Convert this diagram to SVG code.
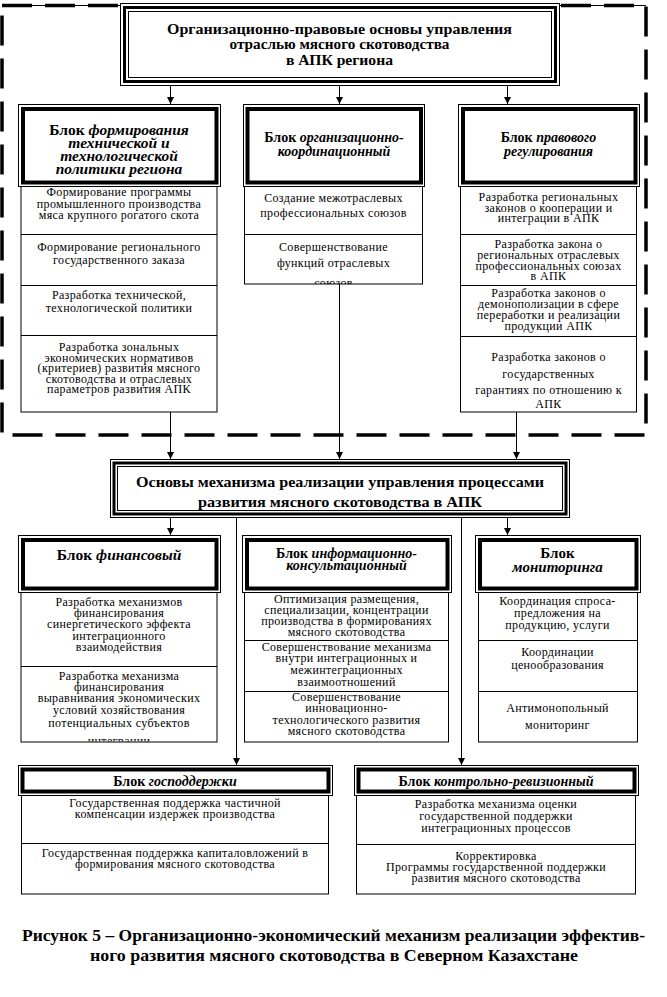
<svg xmlns="http://www.w3.org/2000/svg" width="667" height="997" viewBox="0 0 667 997">
<style>
.t{font-family:"Liberation Serif","Times New Roman",serif;font-size:12px;letter-spacing:0.35px;text-anchor:middle;fill:#000}
.h{font-family:"Liberation Serif","Times New Roman",serif;font-weight:bold;text-anchor:middle;fill:#000}
.hi{font-style:italic}
.m{font-family:"Liberation Serif","Times New Roman",serif;font-weight:bold;font-size:14px;text-anchor:middle;fill:#000}
.thin{fill:#fff;stroke:#000;stroke-width:1}
.thick{fill:none;stroke:#000;stroke-width:4}
.mthick{fill:none;stroke:#000;stroke-width:3}
.line{fill:none;stroke:#000;stroke-width:1}
.con{fill:none;stroke:#000;stroke-width:1}
.dash{fill:none;stroke:#000;stroke-width:3.5;stroke-dasharray:30 13}
</style>
<defs>
<marker id="arr" viewBox="0 0 8 8" refX="8" refY="4" markerWidth="7" markerHeight="7" markerUnits="userSpaceOnUse" orient="auto">
<path d="M0,0 L8,4 L0,8 z" fill="#000"/>
</marker>
<clipPath id="c1"><rect x="243" y="234" width="182" height="50"/></clipPath>
<clipPath id="c2"><rect x="18" y="666" width="202" height="75.5"/></clipPath>
</defs>
<rect width="667" height="997" fill="#fff"/>

<g id="frame">
<line x1="2" y1="5.5" x2="646" y2="5.5" stroke="#000" stroke-width="1"/>
<rect class="dash" x="2" y="5.5" width="644" height="429.5"/>
</g>

<g id="connectors">
<line class="con" x1="170.5" y1="85" x2="170.5" y2="104" marker-end="url(#arr)"/>
<line class="con" x1="339.5" y1="85" x2="339.5" y2="104" marker-end="url(#arr)"/>
<line class="con" x1="507.5" y1="85" x2="507.5" y2="104" marker-end="url(#arr)"/>
<line class="con" x1="170.5" y1="412" x2="170.5" y2="459" marker-end="url(#arr)"/>
<line class="con" x1="339.5" y1="284" x2="339.5" y2="459" marker-end="url(#arr)"/>
<line class="con" x1="516.5" y1="412" x2="516.5" y2="459" marker-end="url(#arr)"/>
<line class="con" x1="170.5" y1="517" x2="170.5" y2="535" marker-end="url(#arr)"/>
<line class="con" x1="507.5" y1="517" x2="507.5" y2="535" marker-end="url(#arr)"/>
<line class="con" x1="236.5" y1="517" x2="236.5" y2="765" marker-end="url(#arr)"/>
<line class="con" x1="461.5" y1="517" x2="461.5" y2="765" marker-end="url(#arr)"/>
</g>

<g id="main1">
<rect class="thin" x="120.5" y="3.5" width="439" height="82"/>
<rect class="mthick" x="124.5" y="7.5" width="431" height="74"/>
<rect class="line" x="128.5" y="11.5" width="423" height="66"/>
<text class="m" x="339.5" y="34" textLength="345" lengthAdjust="spacingAndGlyphs">Организационно-правовые основы управления</text>
<text class="m" x="339.5" y="49" textLength="220" lengthAdjust="spacingAndGlyphs">отраслью мясного скотоводства</text>
<text class="m" x="339.5" y="65" textLength="107" lengthAdjust="spacingAndGlyphs">в АПК региона</text>
</g>

<g id="block-tech">
<rect class="thin" x="18.5" y="104.5" width="202" height="82"/>
<rect class="thick" x="23" y="109" width="193.5" height="73.5"/>
<text class="h" font-size="15.5"><tspan x="119" y="135">Блок <tspan class="hi">формирования</tspan></tspan><tspan class="hi" x="119" y="147.5">технической и</tspan><tspan class="hi" x="119" y="160.5">технологической</tspan><tspan class="hi" x="119" y="173.5">политики региона</tspan></text>
<rect class="thin" x="21" y="186.5" width="196" height="225.5"/>
<line class="line" x1="21" y1="234.5" x2="217" y2="234.5"/>
<line class="line" x1="21" y1="285.5" x2="217" y2="285.5"/>
<line class="line" x1="21" y1="335.5" x2="217" y2="335.5"/>
<text class="t"><tspan x="119" y="196">Формирование программы</tspan><tspan x="119" y="207.5">промышленного производства</tspan><tspan x="119" y="219">мяса крупного рогатого скота</tspan></text>
<text class="t"><tspan x="119" y="251">Формирование регионального</tspan><tspan x="119" y="264">государственного заказа</tspan></text>
<text class="t"><tspan x="119" y="299">Разработка технической,</tspan><tspan x="119" y="312">технологической политики</tspan></text>
<text class="t"><tspan x="119" y="351">Разработка зональных</tspan><tspan x="119" y="361.5">экономических нормативов</tspan><tspan x="119" y="372">(критериев) развития мясного</tspan><tspan x="119" y="382.5">скотоводства и отраслевых</tspan><tspan x="119" y="393">параметров развития АПК</tspan></text>
</g>

<g id="block-org">
<rect class="thin" x="243.5" y="104.5" width="181" height="82"/>
<rect class="thick" x="247.5" y="109" width="173.5" height="73.5"/>
<text class="h" font-size="14"><tspan x="334" y="142">Блок <tspan class="hi">организационно-</tspan></tspan><tspan class="hi" x="334" y="156">координационный</tspan></text>
<rect class="thin" x="244.5" y="186.5" width="178" height="97.5"/>
<line class="line" x1="244.5" y1="234.5" x2="422.5" y2="234.5"/>
<text class="t"><tspan x="333.5" y="202">Создание межотраслевых</tspan><tspan x="333.5" y="217">профессиональных союзов</tspan></text>
<text class="t" clip-path="url(#c1)"><tspan x="333.5" y="251">Совершенствование</tspan><tspan x="333.5" y="267">функций отраслевых</tspan><tspan x="333.5" y="287">союзов</tspan></text>
</g>

<g id="block-law">
<rect class="thin" x="458.5" y="104.5" width="181" height="82"/>
<rect class="thick" x="463" y="109" width="172.5" height="73.5"/>
<text class="h" font-size="14"><tspan x="548.5" y="142">Блок <tspan class="hi">правового</tspan></tspan><tspan class="hi" x="548.5" y="156">регулирования</tspan></text>
<rect class="thin" x="460.5" y="186.5" width="176" height="225.5"/>
<line class="line" x1="460.5" y1="234.5" x2="636.5" y2="234.5"/>
<line class="line" x1="460.5" y1="285.5" x2="636.5" y2="285.5"/>
<line class="line" x1="460.5" y1="336.5" x2="636.5" y2="336.5"/>
<text class="t"><tspan x="548.5" y="201">Разработка региональных</tspan><tspan x="548.5" y="211.5">законов о кооперации и</tspan><tspan x="548.5" y="222">интеграции в АПК</tspan></text>
<text class="t"><tspan x="548.5" y="248">Разработка закона о</tspan><tspan x="548.5" y="259">региональных отраслевых</tspan><tspan x="548.5" y="270">профессиональных союзах</tspan><tspan x="548.5" y="280">в АПК</tspan></text>
<text class="t"><tspan x="548.5" y="297">Разработка законов о</tspan><tspan x="548.5" y="308">демонополизации в сфере</tspan><tspan x="548.5" y="319">переработки и реализации</tspan><tspan x="548.5" y="329.5">продукции АПК</tspan></text>
<text class="t"><tspan x="548.5" y="361">Разработка законов о</tspan><tspan x="548.5" y="377.5">государственных</tspan><tspan x="548.5" y="394">гарантиях по отношению к</tspan><tspan x="548.5" y="407.5">АПК</tspan></text>
</g>

<g id="main2">
<rect class="thin" x="110.5" y="459.5" width="459" height="58"/>
<rect class="mthick" x="114" y="463" width="452" height="51"/>
<rect class="line" x="117.5" y="466.5" width="445" height="44"/>
<text class="m" x="340" y="487" textLength="408" lengthAdjust="spacingAndGlyphs">Основы механизма реализации управления процессами</text>
<text class="m" x="340" y="507" textLength="284" lengthAdjust="spacingAndGlyphs">развития мясного скотоводства в АПК</text>
</g>

<g id="block-fin">
<rect class="thin" x="18.5" y="535.5" width="202" height="57"/>
<rect class="thick" x="23" y="540" width="193.5" height="48.5"/>
<text class="h" font-size="15.5"><tspan x="119" y="560">Блок <tspan class="hi">финансовый</tspan></tspan></text>
<rect class="thin" x="21" y="592.5" width="196" height="149.5"/>
<line class="line" x1="21" y1="666.5" x2="217" y2="666.5"/>
<text class="t"><tspan x="119" y="606">Разработка механизмов</tspan><tspan x="119" y="617">финансирования</tspan><tspan x="119" y="628">синергетического эффекта</tspan><tspan x="119" y="640">интеграционного</tspan><tspan x="119" y="651">взаимодействия</tspan></text>
<text class="t" clip-path="url(#c2)"><tspan x="119" y="680">Разработка механизма</tspan><tspan x="119" y="691">финансирования</tspan><tspan x="119" y="702">выравнивания экономических</tspan><tspan x="119" y="714">условий хозяйствования</tspan><tspan x="119" y="727">потенциальных субъектов</tspan><tspan x="119" y="744.5">интеграции</tspan></text>
</g>

<g id="block-info">
<rect class="thin" x="242.5" y="535.5" width="209" height="57"/>
<rect class="thick" x="247" y="540" width="200.5" height="48.5"/>
<text class="h" font-size="14"><tspan x="346.5" y="558">Блок <tspan class="hi">информационно-</tspan></tspan><tspan class="hi" x="346.5" y="570">консультационный</tspan></text>
<rect class="thin" x="244.5" y="592.5" width="204" height="149.5"/>
<line class="line" x1="244.5" y1="640.5" x2="448.5" y2="640.5"/>
<line class="line" x1="244.5" y1="691.5" x2="448.5" y2="691.5"/>
<text class="t"><tspan x="346.5" y="603">Оптимизация размещения,</tspan><tspan x="346.5" y="614">специализации, концентрации</tspan><tspan x="346.5" y="625">производства в формированиях</tspan><tspan x="346.5" y="636">мясного скотоводства</tspan></text>
<text class="t"><tspan x="346.5" y="651">Совершенствование механизма</tspan><tspan x="346.5" y="662">внутри интеграционных и</tspan><tspan x="346.5" y="674">межинтеграционных</tspan><tspan x="346.5" y="686">взаимоотношений</tspan></text>
<text class="t"><tspan x="346.5" y="701">Совершенствование</tspan><tspan x="346.5" y="712">инновационно-</tspan><tspan x="346.5" y="724">технологического развития</tspan><tspan x="346.5" y="735">мясного скотоводства</tspan></text>
</g>

<g id="block-mon">
<rect class="thin" x="475.5" y="535.5" width="165" height="57"/>
<rect class="thick" x="480" y="540" width="156.5" height="48.5"/>
<text class="h" font-size="15"><tspan x="557.5" y="558">Блок</tspan><tspan class="hi" x="557.5" y="572">мониторинга</tspan></text>
<rect class="thin" x="478.5" y="592.5" width="159" height="149.5"/>
<line class="line" x1="478.5" y1="640.5" x2="637.5" y2="640.5"/>
<line class="line" x1="478.5" y1="691.5" x2="637.5" y2="691.5"/>
<text class="t"><tspan x="557.5" y="605">Координация спроса-</tspan><tspan x="557.5" y="617">предложения на</tspan><tspan x="557.5" y="629">продукцию, услуги</tspan></text>
<text class="t"><tspan x="557.5" y="656">Координации</tspan><tspan x="557.5" y="669">ценообразования</tspan></text>
<text class="t" font-size="15" letter-spacing="0.6"><tspan x="557.5" y="712">Антимонопольный</tspan><tspan x="557.5" y="729">мониторинг</tspan></text>
</g>

<g id="block-gov">
<rect class="thin" x="18.5" y="765.5" width="314" height="30"/>
<rect class="thick" x="22.5" y="769.5" width="306" height="22"/>
<text class="h" font-size="14"><tspan x="175" y="786">Блок <tspan class="hi">господдержки</tspan></tspan></text>
<rect class="thin" x="21.5" y="795.5" width="307" height="98.5"/>
<line class="line" x1="21.5" y1="843.5" x2="328.5" y2="843.5"/>
<text class="t"><tspan x="175" y="807">Государственная поддержка частичной</tspan><tspan x="175" y="818">компенсации издержек производства</tspan></text>
<text class="t"><tspan x="175" y="857">Государственная поддержка капиталовложений в</tspan><tspan x="175" y="868">формирования мясного скотоводства</tspan></text>
</g>

<g id="block-ctrl">
<rect class="thin" x="354.5" y="765.5" width="284" height="30"/>
<rect class="thick" x="358.5" y="769.5" width="276" height="22"/>
<text class="h" font-size="14"><tspan x="496" y="786">Блок <tspan class="hi">контрольно-ревизионный</tspan></tspan></text>
<rect class="thin" x="356.5" y="795.5" width="279" height="98.5"/>
<line class="line" x1="356.5" y1="844.5" x2="635.5" y2="844.5"/>
<text class="t"><tspan x="496" y="808">Разработка механизма оценки</tspan><tspan x="496" y="820">государственной поддержки</tspan><tspan x="496" y="832">интеграционных процессов</tspan></text>
<text class="t"><tspan x="496" y="860">Корректировка</tspan><tspan x="496" y="871">Программы государственной поддержки</tspan><tspan x="496" y="882">развития мясного скотоводства</tspan></text>
</g>

<g id="caption">
<text class="h" font-size="16" x="333.5" y="941" textLength="623" lengthAdjust="spacingAndGlyphs">Рисунок 5 – Организационно-экономический механизм реализации эффектив-</text>
<text class="h" font-size="16" x="334" y="961" textLength="488" lengthAdjust="spacingAndGlyphs">ного развития мясного скотоводства в Северном Казахстане</text>
</g>
</svg>
